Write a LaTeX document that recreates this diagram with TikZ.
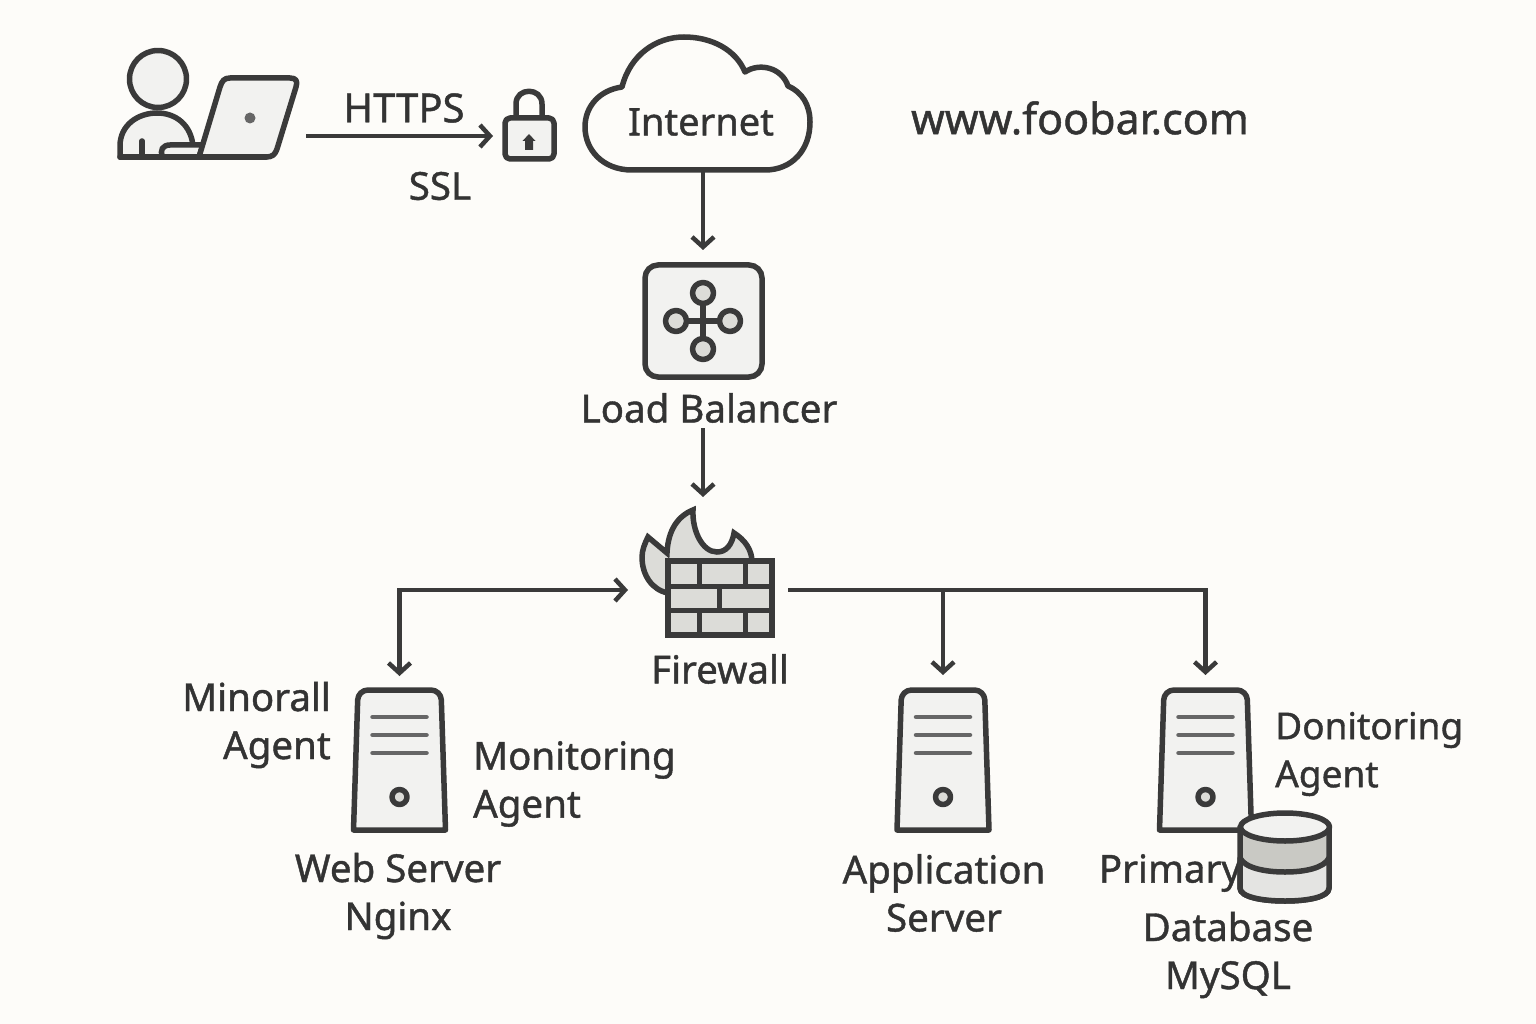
\documentclass[tikz,border=0pt]{standalone}
\usepackage{fontspec}
\setmainfont{Noto Sans}[FakeBold=1.1]
\usetikzlibrary{arrows.meta,calc}
\definecolor{bgc}{HTML}{FDFCF9}
\definecolor{ink}{HTML}{3A3A3A}
\definecolor{txt}{HTML}{333333}
\definecolor{pale}{HTML}{F2F2F0}
\definecolor{midg}{HTML}{DCDCD8}
\definecolor{bandg}{HTML}{C9C9C4}
\definecolor{lowg}{HTML}{E4E4E2}
\definecolor{barg}{HTML}{666666}
\tikzset{
  ln/.style={draw=ink,line width=5.5pt,line join=round,line cap=round},
  flow/.style={draw=ink,line width=4.5pt,-{Straight Barb[length=10pt,width=22pt,line width=4.5pt]},line join=miter},
  hook/.style={inner sep=0pt,outer sep=0pt,draw=none},
  lab/.style={text=txt,inner sep=0pt,font=\fontsize{38.5}{48}\selectfont},
}
\newcommand{\servericon}[2]{%
  \begin{scope}[shift={(#2,0)}]
    \draw[ln,fill=pale] (-46,830) [rounded corners=10pt] -- (-41.5,690) -- (41.5,690) [sharp corners] -- (46,830) -- cycle;
    \foreach \yy in {717,735,753} \draw[draw=barg,line width=4.5pt,line cap=round] (-27,\yy) -- (27,\yy);
    \draw[ln,fill=midg] (0,797) circle[radius=7.5];
  \end{scope}
  \node[hook,minimum width=92pt,minimum height=142pt] (#1) at (#2,759) {};
}
\begin{document}
\begin{tikzpicture}[x=1pt,y=-1pt]
\useasboundingbox (0,0) rectangle (1536,1024);
\fill[bgc] (0,0) rectangle (1536,1024);

% user + laptop
\draw[ln,fill=pale] (120,157) -- (120,146) .. controls (120,125) and (138,113) .. (157,113) .. controls (176,113) and (191,125) .. (193,146) -- (193,157) -- cycle;
\draw[ln,fill=pale] (158,79) circle[radius=28.5];
\draw[ln] (142,141) -- (142,157);
\draw[ln,fill=pale] (163,157) .. controls (159,150) and (163,145) .. (170,145) -- (203,145) -- (199,157) -- cycle;
\draw[ln,fill=pale] (199,157) -- (220,87) .. controls (222,81) and (224,78) .. (230,78) -- (290,78) .. controls (296,78) and (298,81) .. (296,87) -- (277,149) .. controls (275,155) and (272,157) .. (266,157) -- cycle;
\draw[ln] (120,157) -- (266,157);
\fill[barg] (250,118) circle[radius=5.5];
\node[hook,minimum width=188pt,minimum height=100pt] (user) at (212,136) {};

% lock
\draw[ln] (516,118) -- (516,104) .. controls (516,87) and (542,87) .. (542,104) -- (542,118);
\draw[ln,fill=pale,rounded corners=5pt] (505,118) rectangle (554,159);
\fill[ink] (525,150) -- (525,141) -- (522.5,141) -- (529,134) -- (535.5,141) -- (533,141) -- (533,150) -- cycle;
\node[hook,minimum width=63pt,minimum height=60pt] (lock) at (524.5,136) {};
\draw[flow] (user.east) -- (lock.west);
\node[lab,font=\fontsize{40}{48}\selectfont] (https) at (404,108) {HTTPS};
\node[lab] (ssl) at (440,186) {SSL};

% cloud
\draw[ln,fill=bgc] (632,170) .. controls (603,170) and (585,150) .. (585,127) .. controls (585,106) and (600,90) .. (622,87)
  .. controls (630,55) and (656,37) .. (684,37) .. controls (712,37) and (736,50) .. (745,72)
  .. controls (760,62) and (782,68) .. (788,86) .. controls (802,92) and (810,105) .. (810,122)
  .. controls (810,150) and (792,170) .. (765,170) -- cycle;
\node[hook,minimum width=226pt,minimum height=135pt] (cloud) at (703,104.5) {};
\node[lab,font=\fontsize{38}{48}\selectfont] (internet) at (701,122) {Internet};
\node[lab,font=\fontsize{43}{48}\selectfont] (site) at (1080,118) {www.foobar.com};

% load balancer
\draw[draw=ink,line width=5.5pt,fill=pale,rounded corners=13pt] (645,265) rectangle (762,377);
\draw[ln] (703,293) -- (703,349) (676,321) -- (730,321);
\foreach \cx/\cy in {703/293,703/349,676/321,730/321}
  \draw[ln,fill=midg] (\cx,\cy) circle[radius=10.5];
\node[hook,minimum width=120pt,minimum height=114pt] (lb) at (703,321) {};
\node[lab] (lblabel) at (709,408) {Load Balancer};
\draw[flow,shorten >=14pt] (cloud.south) -- (lb.north);

% firewall
\draw[ln,fill=midg,line join=miter] (668,593) .. controls (652,590) and (642,575) .. (642,557) .. controls (642,550) and (645,543) .. (648,537)
  -- (667,553) .. controls (668,530) and (678,516) .. (693,510) .. controls (692,530) and (702,552) .. (717,552)
  .. controls (726,552) and (732,545) .. (734,533) .. controls (745,540) and (752,550) .. (752,562) -- (752,580) -- (668,580) -- cycle;
\draw[ln,fill=midg,line cap=butt,line join=miter] (668,561) rectangle (772,635);
\draw[ln,line cap=butt,line width=5pt] (668,586) -- (772,586) (668,610) -- (772,610)
  (699,561) -- (699,586) (745,561) -- (745,586)
  (719,586) -- (719,610)
  (699,610) -- (699,635) (745,610) -- (745,635);
\node[hook,minimum width=160pt,minimum height=186pt] (fw) at (708,590) {};
\node[lab] (fwlabel) at (720,669) {Firewall};
\draw[flow] ($(lb.south |- lblabel.south)+(0,5)$) -- (lb.south |- fw.north);

% servers
\servericon{web}{399.5}
\servericon{app}{943}
\servericon{dbs}{1205.5}

\draw[draw=ink,line width=4.5pt,{Straight Barb[length=10pt,width=22pt,line width=4.5pt]}-{Straight Barb[length=10pt,width=22pt,line width=4.5pt]},shorten >=12pt] (fw.west) -| (web.north);
\draw[flow,shorten >=13pt] (fw.east) -| (app.north);
\draw[flow,shorten >=13pt] (fw.east) -| (dbs.north);

\node[lab,align=right,anchor=east] (minor) at (331,725) {Minorall\\Agent};
\node[lab,align=left,anchor=west] (mon) at (473,784) {Monitoring\\Agent};
\node[lab,align=center] (weblabel) at (398,896) {Web Server\\Nginx};
\node[lab,align=center] (applabel) at (944,893) {Application\\Server};
\node[lab,align=left,anchor=west,font=\fontsize{37}{48}\selectfont] (don) at (1275,754) {Donitoring\\Agent};
\node[lab] (primary) at (1170,873) {Primary};

% database
\draw[ln,fill=bandg] (1240,827) -- (1240,888) .. controls (1240,897) and (1262,901) .. (1285,901) .. controls (1308,901) and (1329,897) .. (1329,888) -- (1329,827) -- cycle;
\draw[ln,fill=lowg] (1240,858) .. controls (1245,868) and (1265,872) .. (1285,872) .. controls (1305,872) and (1324,868) .. (1329,858) -- (1329,888) .. controls (1329,897) and (1308,901) .. (1285,901) .. controls (1262,901) and (1240,897) .. (1240,888) -- cycle;
\draw[ln,fill=pale] (1285,827) ellipse[x radius=44.5,y radius=14];
\node[hook,minimum width=92pt,minimum height=88pt] (db) at (1285,857) {};
\node[lab,align=center] (dblabel) at (1228,955) {Database\\MySQL};
\end{tikzpicture}
\end{document}
